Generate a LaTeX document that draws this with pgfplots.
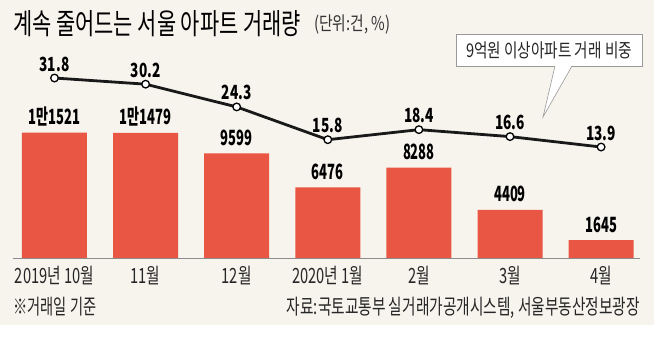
\documentclass[border=0pt]{standalone}
\usepackage{fontspec}
\usepackage{pgfplots}
\pgfplotsset{compat=1.18}
\usepackage{pgfplotstable}
\newcommand\krs[2]{\fontspec[FakeStretch=#1]{Noto Sans CJK KR}\fontsize{#2}{#2}\selectfont}
\definecolor{bg}{RGB}{247,244,238}
\definecolor{barc}{RGB}{233,86,67}

\pgfplotstableread{
x y label
0 11521 1만1521
1 11479 1만1479
2 9599 9599
3 6476 6476
4 8288 8288
5 4409 4409
6 1645 1645
}\bars
\pgfplotstableread{
x y label
0 31.8 31.8
1 30.2 30.2
2 24.3 24.3
3 15.8 15.8
4 18.4 18.4
5 16.6 16.6
6 13.9 13.9
}\share

\begin{document}
\begin{tikzpicture}
\path[use as bounding box] (0,0) rectangle (654pt,348pt);
\fill[white] (0,0) rectangle (654pt,348pt);
\fill[bg] (0,23pt) rectangle (654pt,348pt);
\begin{axis}[at={(13pt,90pt)}, anchor=south west, scale only axis,
  width=627pt, height=217.8pt,
  xmin=-0.4555, xmax=6.427, ymin=0, ymax=20000,
  axis y line=none, axis x line*=bottom,
  x axis line style={draw=black!45, line width=0.6pt, -},
  xtick={0,...,6},
  xticklabels={2019년 10월, 11월, 12월, 2020년 1월, 2월, 3월, 4월},
  xtick style={draw=none},
  xticklabel style={font=\krs{0.7}{21}, anchor=base, yshift=-21pt, text=black!85},
  ybar, bar width=65pt, bar shift=0pt,
  nodes near coords, point meta=explicit symbolic,
  nodes near coords style={font=\krs{0.62}{21}\bfseries, anchor=base, yshift=8pt, inner sep=0pt, text=black},
  clip=false]
\addplot[fill=barc, draw=none] table[x=x, y=y, meta=label]{\bars};
\end{axis}
\begin{axis}[at={(13pt,90pt)}, anchor=south west, scale only axis,
  width=627pt, height=217.8pt,
  xmin=-0.4555, xmax=6.427, ymin=-14.89, ymax=41.61,
  hide axis, clip=false,
  nodes near coords, point meta=explicit symbolic,
  nodes near coords style={font=\krs{0.7}{19.5}\bfseries, anchor=base, yshift=7pt, inner sep=0pt, text=black}]
\addplot[black!90, line width=2.8pt, mark=*, mark options={fill=white, draw=black, line width=1.3pt}, mark size=3.8pt] table[x=x, y=y, meta=label]{\share};
\end{axis}
\node[anchor=base west, inner sep=0, font=\krs{0.72}{29}] at (13pt,313pt) {계속 줄어드는 서울 아파트 거래량};
\node[anchor=base west, inner sep=0, font=\krs{0.78}{19}, text=black!80] at (314pt,317pt) {(단위:건, \%)};
% callout
\filldraw[fill=white, draw=black!40, line width=0.6pt] (456pt,282pt) rectangle (642pt,314pt);
\fill[white] (555pt,282.6pt) -- (543pt,231pt) -- (572pt,282.6pt) -- cycle;
\draw[black!40, line width=0.6pt] (555pt,282pt) -- (543pt,231pt) -- (572pt,282pt);
\node[inner sep=0, font=\krs{0.77}{19}, text=black!85] at (549pt,298pt) {9억원 이상아파트 거래 비중};
\node[anchor=base west, inner sep=0, font=\krs{0.68}{21}, text=black!85] at (13pt,33pt) {※거래일 기준};
\node[anchor=base east, inner sep=0, font=\krs{0.70}{21}, text=black!85] at (640pt,33pt) {자료:국토교통부 실거래가공개시스템, 서울부동산정보광장};
\end{tikzpicture}
\end{document}
